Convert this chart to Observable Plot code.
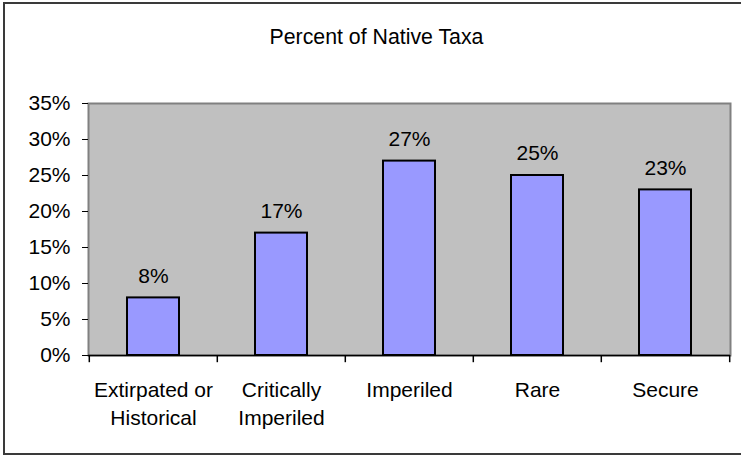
<!DOCTYPE html>
<html>
<head>
<meta charset="utf-8">
<script src="https://cdn.jsdelivr.net/npm/d3@7"></script>
<script src="https://cdn.jsdelivr.net/npm/@observablehq/plot@0.6"></script>
<style>
  html, body { margin: 0; padding: 0; background: #fff; }
  #wrap { position: relative; width: 741px; height: 455px; overflow: hidden; font-family: "Liberation Sans", Arial, sans-serif; }
  #title { height: 65px; box-sizing: border-box; padding-top: 27px; font-size: 21.3px; line-height: 21px; text-align: center; padding-left: 12px; color: #000; }
  #border { position: absolute; left: 3px; top: 2px; width: 760px; height: 449px; border: 2px solid #3a3a3a; box-sizing: content-box; pointer-events: none; }
  svg { display: block; }
</style>
</head>
<body>
<div id="wrap">
  <div id="title">Percent of Native Taxa</div>
  <div id="chart"></div>
  <div id="border"></div>
</div>
<script>
const categories = ["Extirpated or\nHistorical", "Critically\nImperiled", "Imperiled", "Rare", "Secure"];
const values = [0.08, 0.17, 0.27, 0.25, 0.23];
const yTicks = [0, 0.05, 0.10, 0.15, 0.20, 0.25, 0.30, 0.35];

const data = categories.map((c, i) => ({cat: c, value: values[i]}));
const W = 741, H = 390, mL = 88, mR = 11;
const band = (W - mL - mR) / categories.length;

const chart = Plot.plot({
  width: W,
  height: H,
  marginLeft: mL,
  marginRight: mR,
  marginTop: 38,
  marginBottom: 100,
  style: {fontFamily: "'Liberation Sans', Arial, sans-serif", fontSize: "21px", color: "#000", background: "transparent"},
  x: {domain: categories, padding: 0, axis: null},
  y: {domain: [0, 0.35], axis: null},
  marks: [
    Plot.frame({fill: "#C0C0C0", stroke: "#808080", strokeWidth: 2}),
    Plot.barY(data, {x: "cat", y: "value", fill: "#9999FF", stroke: "#000", strokeWidth: 2, insetLeft: 38, insetRight: 38}),
    Plot.text(data, {x: "cat", y: "value", text: d => Math.round(d.value * 100) + "%", dy: -22, lineAnchor: "middle", fill: "#000", fontSize: 21}),
    Plot.ruleY([0], {stroke: "#000", strokeWidth: 1.5}),
    Plot.ruleX(categories, {x: d => d, dx: -band / 2, y1: 0, y2: -0.01, stroke: "#000", strokeWidth: 1.5}),
    Plot.ruleX([categories[categories.length - 1]], {x: d => d, dx: band / 2, y1: 0, y2: -0.01, stroke: "#000", strokeWidth: 1.5}),
    Plot.axisY({ticks: yTicks, tickFormat: d => Math.round(d * 100) + "%", tickSize: 6, tickPadding: 12, stroke: "#000", fill: "#000", fontSize: 21, label: null}),
    Plot.axisX({tickSize: 0, tickPadding: 22, lineHeight: 1.33, fill: "#000", fontSize: 21, label: null})
  ]
});
document.getElementById("chart").appendChild(chart);
</script>
</body>
</html>
